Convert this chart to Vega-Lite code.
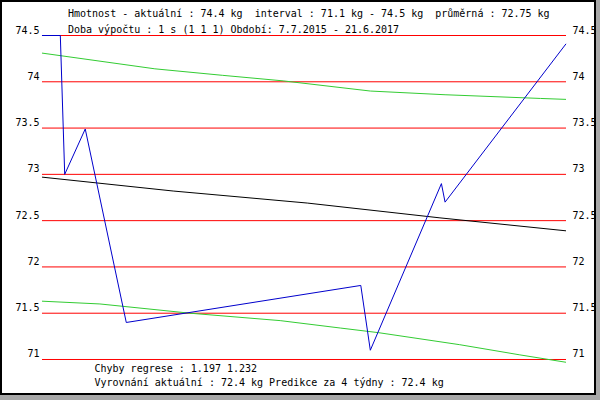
{
  "$schema": "https://vega.github.io/schema/vega-lite/v6.json",
  "width": 594,
  "height": 393,
  "autosize": {"type": "none"},
  "padding": {"left": 1, "top": 1, "right": 5, "bottom": 6},
  "background": "#a8a8a8",
  "config": {
    "view": {"fill": "white", "stroke": "black", "strokeWidth": 2},
    "font": "DejaVu Sans Mono",
    "axis": {"grid": false, "domain": false, "ticks": false, "labelFont": "DejaVu Sans Mono", "labelFontSize": 10, "labelColor": "black", "titleFont": "DejaVu Sans Mono", "titleFontSize": 10, "titleFontWeight": "normal", "titleColor": "black"}
  },
  "title": {
    "text": ["Hmotnost - aktuální : 74.4 kg \u00a0interval : 71.1 kg - 74.5 kg \u00a0průměrná : 72.75 kg", "Doba výpočtu : 1 s (1 1 1) Období: 7.7.2015 - 21.6.2017"],
    "anchor": "start",
    "frame": "group",
    "orient": "top",
    "baseline": "top",
    "offset": -34,
    "dx": 67,
    "fontSize": 10,
    "fontWeight": "normal",
    "font": "DejaVu Sans Mono",
    "color": "black",
    "lineHeight": 16
  },
  "datasets": {
    "grid": [{"v": 71}, {"v": 71.5}, {"v": 72}, {"v": 72.5}, {"v": 73}, {"v": 73.5}, {"v": 74}, {"v": 74.5}],
    "series": [
      {"s": "upper", "day": 0, "v": 74.31},
      {"s": "upper", "day": 154, "v": 74.14},
      {"s": "upper", "day": 246, "v": 74.07},
      {"s": "upper", "day": 329, "v": 74.01},
      {"s": "upper", "day": 448, "v": 73.90},
      {"s": "upper", "day": 550, "v": 73.86},
      {"s": "upper", "day": 680, "v": 73.82},
      {"s": "upper", "day": 715, "v": 73.81},
      {"s": "lower", "day": 0, "v": 71.63},
      {"s": "lower", "day": 79, "v": 71.60},
      {"s": "lower", "day": 202, "v": 71.50},
      {"s": "lower", "day": 325, "v": 71.42},
      {"s": "lower", "day": 407, "v": 71.34},
      {"s": "lower", "day": 459, "v": 71.29},
      {"s": "lower", "day": 570, "v": 71.16},
      {"s": "lower", "day": 652, "v": 71.05},
      {"s": "lower", "day": 715, "v": 70.97},
      {"s": "trend", "day": 0, "v": 72.97},
      {"s": "trend", "day": 179, "v": 72.82},
      {"s": "trend", "day": 362, "v": 72.69},
      {"s": "trend", "day": 543, "v": 72.53},
      {"s": "trend", "day": 715, "v": 72.39},
      {"s": "data", "day": 0, "v": 74.5},
      {"s": "data", "day": 25, "v": 74.5},
      {"s": "data", "day": 31, "v": 73.0},
      {"s": "data", "day": 59, "v": 73.49},
      {"s": "data", "day": 115, "v": 71.4},
      {"s": "data", "day": 435, "v": 71.8},
      {"s": "data", "day": 448, "v": 71.1},
      {"s": "data", "day": 545, "v": 72.9},
      {"s": "data", "day": 550, "v": 72.7},
      {"s": "data", "day": 715, "v": 74.41}
    ]
  },
  "layer": [
    {
      "data": {"name": "grid"},
      "mark": {"type": "rule", "color": "#ff0000", "strokeWidth": 1},
      "encoding": {
        "y": {"field": "v", "type": "quantitative", "scale": {"domain": [70.6273, 74.8727], "nice": false, "zero": false},
              "axis": {"orient": "left", "offset": -41, "values": [71, 71.5, 72, 72.5, 73, 73.5, 74, 74.5], "format": "~g", "labelPadding": 3, "labelBaseline": "alphabetic", "labelOffset": -2.5, "title": null}},
        "x": {"datum": 0, "type": "quantitative", "scale": {"domain": [-55.94, 754.57], "nice": false, "zero": false}},
        "x2": {"datum": 715}
      }
    },
    {
      "data": {"name": "series"},
      "mark": {"type": "line", "strokeWidth": 1},
      "encoding": {
        "x": {"field": "day", "type": "quantitative", "scale": {"domain": [-55.94, 754.57], "nice": false, "zero": false},
              "axis": {"orient": "bottom", "labels": false, "title": ["Chyby regrese : 1.197 1.232", "Vyrovnání aktuální : 72.4 kg Predikce za 4 týdny : 72.4 kg"], "titleX": 93, "titleY": -31, "titleAlign": "left", "titleAnchor": "start", "titleBaseline": "top", "titleLineHeight": 14}},
        "y": {"field": "v", "type": "quantitative", "scale": {"domain": [70.6273, 74.8727], "nice": false, "zero": false},
              "axis": {"orient": "right", "offset": -29, "values": [71, 71.5, 72, 72.5, 73, 73.5, 74, 74.5], "format": "~g", "labelPadding": 6, "labelBaseline": "alphabetic", "labelOffset": -2.5, "title": null}},
        "color": {"field": "s", "type": "nominal", "legend": null,
                  "scale": {"domain": ["upper", "lower", "trend", "data"], "range": ["#33cc33", "#33cc33", "#000000", "#0000cc"]}}
      }
    }
  ],
  "resolve": {"axis": {"y": "independent"}}
}
